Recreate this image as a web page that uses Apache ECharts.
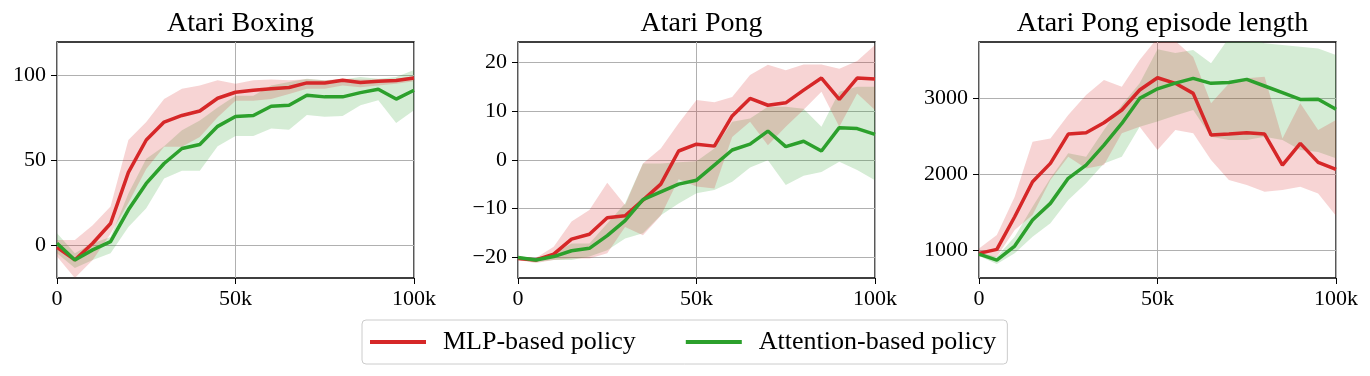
<!DOCTYPE html>
<html>
<head>
<meta charset="utf-8">
<script src="https://cdn.jsdelivr.net/npm/echarts@6/dist/echarts.min.js"></script>
<style>
  html, body { margin: 0; padding: 0; background: #fff; }
  #chart { width: 1370px; height: 376px; }
</style>
</head>
<body>
<div id="chart"></div>
<script>
// training steps (thousands)
const steps = [0, 5, 10, 15, 20, 25, 30, 35, 40, 45, 50, 55, 60, 65, 70, 75, 80, 85, 90, 95, 100];

const titles = ['Atari Boxing', 'Atari Pong', 'Atari Pong episode length'];
const seriesNames = ['MLP-based policy', 'Attention-based policy'];

// Atari Boxing
const boxMlp   = [-1, -8.4, 1.4, 13, 43, 62, 72.5, 76.4, 79, 86.5, 90, 91.2, 92, 92.8, 95.5, 95.5, 97, 95.7, 96.5, 96.9, 98.4];
const boxMlpLo = [-6.4, -19, -8.4, 7, 25, 45, 58, 58, 63.7, 75.4, 85, 85, 86, 89, 92, 92, 94, 93, 94, 95, 96.5];
const boxMlpHi = [3.3, 3.3, 12, 23, 62, 72.5, 86, 92, 94, 97, 95, 97, 97.5, 97, 97.7, 97, 98, 97.5, 97.5, 98, 99.4];
const boxAtt   = [1.4, -8.4, -2.5, 2.3, 21, 36.5, 48.2, 57, 59.3, 70, 75.8, 76.4, 81.8, 82.4, 88.3, 87.3, 87.3, 89.8, 91.8, 86, 91.2];
const boxAttLo = [-4.5, -13.2, -8.4, -4.5, 11, 22, 39.4, 44, 44, 58.3, 64.3, 64.3, 68.7, 68, 76.6, 75.6, 76, 82.4, 85.3, 72, 79.5];
const boxAttHi = [7.2, -4.5, 1.4, 5, 30.6, 51, 58.3, 67.7, 73.5, 81, 88, 88, 94, 96, 98, 97, 97.5, 99, 98, 99, 103];

// Atari Pong
const pongMlp   = [-20.3, -20.6, -19.4, -16.3, -15.3, -11.9, -11.5, -8.3, -5, 1.8, 3.2, 2.8, 9, 12.6, 11.2, 11.7, 14.3, 16.8, 12.4, 16.8, 16.6];
const pongMlpLo = [-20.6, -21.2, -20.6, -20.3, -20.3, -19.2, -13.8, -15.5, -11.5, -4, -5.5, -5.9, 4.7, 7.8, 3, 6.8, 10.3, 14, 6.8, 13.6, 10.2];
const pongMlpHi = [-19.9, -20.2, -17.9, -12.7, -10.3, -4.7, -9.3, -0.75, 2.3, 7.5, 12.3, 11.8, 12.9, 17.4, 19.5, 18.4, 19.6, 19.6, 18.7, 20.3, 23.6];
const pongAtt   = [-20.1, -20.6, -19.9, -18.7, -18.2, -15.6, -12.5, -8.2, -6.6, -5, -4.2, -1.1, 2, 3.2, 5.9, 2.7, 3.8, 1.8, 6.6, 6.4, 5.2];
const pongAttLo = [-20.6, -21, -20.6, -20.6, -19.9, -18.6, -16.2, -15.1, -11.4, -9, -6.9, -6.2, -4.5, -1.6, -0.1, -5.2, -3.3, -2.5, -0.4, -2.1, -4.2];
const pongAttHi = [-19.8, -20.3, -19.2, -17.2, -17.2, -13.1, -9, -0.75, -0.75, -0.5, -0.3, 2.3, 7.8, 8.5, 10.9, 10.9, 10.5, 6.8, 14, 15, 15];

// Atari Pong episode length
const lenMlp   = [965, 1018, 1447, 1908, 2149, 2535, 2553, 2684, 2851, 3114, 3276, 3202, 3070, 2522, 2535, 2553, 2535, 2127, 2412, 2162, 2070];
const lenMlpLo = [921, 921, 1272, 1469, 1930, 2237, 2083, 2127, 2544, 2632, 2325, 2588, 2544, 2193, 1930, 1864, 1776, 1798, 1842, 1754, 1460];
const lenMlpHi = [1030, 1206, 1710, 2434, 2478, 2785, 3048, 3245, 3158, 3509, 3800, 3760, 3550, 2939, 3200, 3268, 3290, 2478, 2939, 2588, 2719];
const lenAtt   = [956, 877, 1061, 1404, 1623, 1952, 2127, 2390, 2675, 3004, 3130, 3205, 3268, 3202, 3212, 3254, 3167, 3079, 2991, 2993, 2862];
const lenAttLo = [930, 825, 965, 1184, 1360, 1667, 1886, 2149, 2237, 2632, 2700, 2780, 2850, 2500, 2456, 2456, 2500, 2456, 2325, 2300, 2215];
const lenAttHi = [974, 921, 1184, 1579, 1952, 2281, 2237, 2588, 2917, 3202, 3650, 3600, 3640, 3465, 3800, 3800, 3730, 3706, 3684, 3662, 3575];

// y tick values and axis extents
const yTicks = [[0, 50, 100], [-20, -10, 0, 10, 20], [1000, 2000, 3000]];
const yRange = [[-19, 119.5], [-24.3, 24.2], [641, 3746]];

const panels = [
    { mlp: [boxMlp, boxMlpLo, boxMlpHi], att: [boxAtt, boxAttLo, boxAttHi] },
    { mlp: [pongMlp, pongMlpLo, pongMlpHi], att: [pongAtt, pongAttLo, pongAttHi] },
    { mlp: [lenMlp, lenMlpLo, lenMlpHi], att: [lenAtt, lenAttLo, lenAttHi] }
];

const RED = '#d62728';
const GREEN = '#2ca02c';
const FONT = 'Liberation Serif';
const gridLefts = [57, 518, 979];
const gridWidth = 357;

const chart = echarts.init(document.getElementById('chart'));

const pairs = (vals) => vals.map((v, i) => [steps[i] * 1000, v]);

// shaded band: one polygon, upper edge forward then lower edge back
function bandSeries(gi, lo, hi, color, z) {
    return {
        type: 'custom',
        name: 'band',
        xAxisIndex: gi,
        yAxisIndex: gi,
        silent: true,
        z: z,
        data: [[0, lo[0]]],
        renderItem: (params, api) => {
            const pts = [];
            hi.forEach((v, i) => pts.push(api.coord([steps[i] * 1000, v])));
            for (let i = lo.length - 1; i >= 0; i--) pts.push(api.coord([steps[i] * 1000, lo[i]]));
            const cs = params.coordSys;
            return {
                type: 'polygon',
                shape: { points: pts },
                style: { fill: color, opacity: 0.2 },
                clipPath: { type: 'rect', shape: { x: cs.x, y: cs.y, width: cs.width, height: cs.height } }
            };
        }
    };
}

function lineSeries(gi, name, vals, color, z) {
    return {
        type: 'line',
        name: name,
        xAxisIndex: gi,
        yAxisIndex: gi,
        data: pairs(vals),
        symbol: 'none',
        lineStyle: { color: color, width: 3.5 },
        itemStyle: { color: color },
        z: z
    };
}

const grids = [], xAxes = [], yAxes = [], series = [], titleOpts = [];

panels.forEach((p, gi) => {
    grids.push({
        left: gridLefts[gi], top: 42, width: gridWidth, height: 236,
        show: true, borderColor: '#000', borderWidth: 1.3,
        backgroundColor: 'transparent'
    });
    xAxes.push({
        type: 'value', gridIndex: gi,
        min: 0, max: 100000, interval: 50000,
        axisLine: { show: false, onZero: false },
        axisTick: { show: true, length: 6, lineStyle: { color: '#000' } },
        axisLabel: {
            color: '#000', fontFamily: FONT, fontSize: 22, margin: 10,
            formatter: v => v === 0 ? '0' : (v / 1000) + 'k'
        },
        splitLine: { show: true, lineStyle: { color: '#b0b0b0', width: 1 } }
    });
    yAxes.push({
        type: 'value', gridIndex: gi,
        min: yRange[gi][0], max: yRange[gi][1],
        axisLine: { show: false, onZero: false },
        axisTick: { show: true, length: 6, lineStyle: { color: '#000' }, customValues: yTicks[gi] },
        axisLabel: {
            color: '#000', fontFamily: FONT, fontSize: 22, margin: 11,
            customValues: yTicks[gi],
            formatter: v => String(v).replace('-', '\u2212')
        },
        splitLine: { show: true, lineStyle: { color: '#b0b0b0', width: 1 } }
    });
    titleOpts.push({
        text: titles[gi],
        left: gridLefts[gi] + gridWidth / 2,
        top: 5,
        textAlign: 'center',
        textStyle: { fontFamily: FONT, fontSize: 28, fontWeight: 'normal', color: '#000' }
    });

    series.push(bandSeries(gi, p.att[1], p.att[2], GREEN, 1));
    series.push(bandSeries(gi, p.mlp[1], p.mlp[2], RED, 2));
    series.push(lineSeries(gi, seriesNames[0], p.mlp[0], RED, 3));
    series.push(lineSeries(gi, seriesNames[1], p.att[0], GREEN, 4));
});

chart.setOption({
    animation: false,
    backgroundColor: '#fff',
    title: titleOpts,
    grid: grids,
    xAxis: xAxes,
    yAxis: yAxes,
    legend: {
        data: seriesNames,
        left: 362,
        top: 320,
        icon: 'rect',
        itemWidth: 56,
        itemHeight: 4,
        itemGap: 50,
        padding: [9, 11, 9, 8],
        borderColor: '#cccccc',
        borderWidth: 1,
        borderRadius: 4,
        textStyle: { fontFamily: FONT, fontSize: 26, color: '#000', padding: [0, 0, 0, 12] }
    },
    series: series
});
</script>
</body>
</html>
